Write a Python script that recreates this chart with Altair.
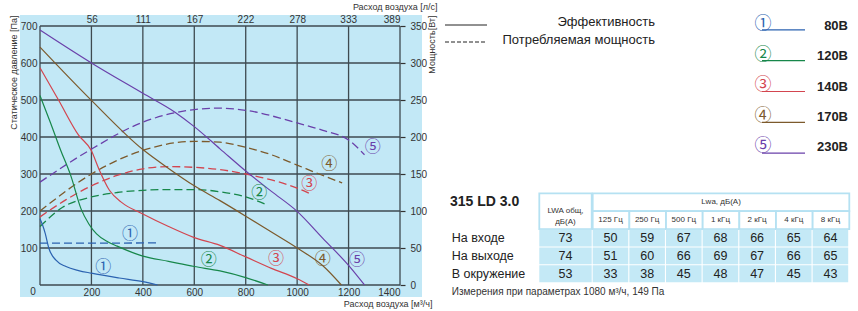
import altair as alt
import pandas as pd

# ---------------- data ----------------
CURVES = ["1", "2", "3", "4", "5"]
DIGITS = ["①", "②", "③", "④", "⑤"]
VOLTAGES = ["80В", "120В", "140В", "170В", "230В"]
COLORS = ["#2b62b0", "#17874a", "#d3454f", "#7c5a2c", "#6a40aa"]

# static pressure curves: flow [m3/h] -> pressure [Pa]
P_FLOW = {
    "1": [0, 10, 20, 34, 62, 101, 150, 200, 308, 400, 457],
    "2": [0, 40, 80, 120, 160, 190, 220, 260, 300, 400, 500, 600, 700, 800, 886],
    "3": [0, 72, 150, 199, 230, 270, 320, 400, 500, 600, 700, 800, 900, 1000, 1047],
    "4": [0, 200, 400, 500, 600, 700, 800, 900, 1000, 1100, 1172],
    "5": [0, 200, 400, 525, 600, 700, 800, 900, 1000, 1100, 1200, 1262],
}
P_PA = {
    "1": [179, 162, 140, 100, 67, 50, 39, 32, 19, 9, 0],
    "2": [512, 440, 365, 295, 205, 165, 138, 118, 105, 78, 64, 50, 38, 20, 0],
    "3": [587, 500, 405, 364, 312, 256, 222, 192, 158, 128, 107, 76, 45, 17, 0],
    "4": [643, 499, 366, 315, 268, 228, 186, 143, 100, 52, 0],
    "5": [689, 600, 518, 467, 428, 368, 308, 253, 199, 126, 53, 0],
}
# consumed power curves: flow [m3/h] -> power [W]
W_FLOW = {
    "1": [0, 200, 457],
    "2": [0, 88, 200, 300, 400, 500, 600, 700, 800, 885],
    "3": [0, 100, 200, 300, 400, 500, 600, 700, 800, 900, 1000, 1047],
    "4": [0, 200, 400, 600, 700, 800, 900, 1000, 1100, 1175],
    "5": [0, 192, 400, 600, 700, 800, 1000, 1100, 1200, 1262],
}
W_VAL = {
    "1": [56.5, 56.5, 57],
    "2": [79, 105, 119, 125, 128, 129, 129, 126, 119, 108],
    "3": [92, 115, 134, 148, 157, 160, 159, 156, 150, 142, 131, 124],
    "4": [100, 150, 182, 194, 193, 186, 176, 162, 148, 138],
    "5": [139, 182, 220, 237, 239, 236, 219, 209, 196, 176],
}
# circled-number annotation anchors
SOLID_LAB_FLOW = [246, 656, 918, 1100, 1233]
SOLID_LAB_PA = [50, 67, 71, 71, 67]
DASH_LAB_FLOW = [350, 853, 1047, 1125, 1294]
DASH_LAB_W = [69, 125, 137, 164, 187]

FLOW_TICKS = [0, 200, 400, 600, 800, 1000, 1200, 1400]
PA_TICKS = [0, 100, 200, 300, 400, 500, 600, 700]
W_TICKS = [0, 50, 100, 150, 200, 250, 300, 350]
LS_TICKS = [56, 111, 167, 222, 278, 333, 389]

STYLE_LABELS = ["Эффективность", "Потребляемая мощность"]
STYLE_KIND = ["solid", "dashed"]

MODEL = "315 LD 3.0"
ROWS = ["На входе", "На выходе", "В окружение"]
FREQS = ["125 Гц", "250 Гц", "500 Гц", "1 кГц", "2 кГц", "4 кГц", "8 кГц"]
TOTAL = [73, 74, 53]
BANDS = [
    [50, 59, 67, 68, 66, 65, 64],
    [51, 60, 66, 69, 67, 66, 65],
    [33, 38, 45, 48, 47, 45, 43],
]
HDR_TOTAL = "LWA общ,\nдБ(A)"
HDR_BANDS = "Lwa, дБ(A)"
NOTE = "Измерения при параметрах 1080 м³/ч, 149 Па"

# ---------------- tables ----------------
df_p = pd.DataFrame([{"curve": c, "flow": f, "pa": p}
                     for c in CURVES for f, p in zip(P_FLOW[c], P_PA[c])])
df_w = pd.DataFrame([{"curve": c, "flow": f, "w": w}
                     for c in CURVES for f, w in zip(W_FLOW[c], W_VAL[c])])
df_sl = pd.DataFrame({"curve": CURVES, "digit": DIGITS, "flow": SOLID_LAB_FLOW, "pa": SOLID_LAB_PA})
df_dl = pd.DataFrame({"curve": CURVES, "digit": DIGITS, "flow": DASH_LAB_FLOW, "w": DASH_LAB_W})
df_leg = pd.DataFrame({"idx": list(range(5)), "curve": CURVES, "digit": DIGITS, "volt": VOLTAGES})
df_style = pd.DataFrame({"idx": [0, 1], "label": STYLE_LABELS, "kind": STYLE_KIND})
df_tot = pd.DataFrame({"r": [0, 1, 2], "v": TOTAL, "row": ROWS})
df_band = pd.DataFrame([{"r": r, "c": c, "v": BANDS[r][c]} for r in range(3) for c in range(7)])
df_freq = pd.DataFrame({"c": list(range(7)), "f": FREQS})
one = pd.DataFrame({"a": [0]})

FONT = "Liberation Sans"
CIRC_FONT = "Noto Sans CJK JP"
TXT = "#333333"
GRID = "#3e4a50"

W, H = 360, 259

xs = alt.Scale(domain=[0, 1400], nice=False, zero=False)
ypa = alt.Scale(domain=[0, 700], nice=False)
yw = alt.Scale(domain=[0, 350], nice=False)
xls = alt.Scale(domain=[0, 389], nice=False)
cscale = alt.Scale(domain=CURVES, range=COLORS)

AX = dict(labelFont=FONT, labelFontSize=10, labelColor=TXT, titleFont=FONT,
          titleFontSize=9, titleColor=TXT, titleFontWeight="normal",
          grid=False, domain=False, zindex=1, format="d")

bg = alt.Chart(one).mark_rect(color="#c2e8f6").encode(
    x=alt.value(-20), x2=alt.value(382), y=alt.value(-11), y2=alt.value(271))

vgrid = alt.Chart(pd.DataFrame({"f": FLOW_TICKS})).mark_rule(color=GRID, strokeWidth=1.3).encode(
    x=alt.X("f:Q", scale=xs, axis=None))
hgrid = alt.Chart(pd.DataFrame({"p": PA_TICKS})).mark_rule(color=GRID, strokeWidth=1.3).encode(
    y=alt.Y("p:Q", scale=ypa, axis=None))

solid = alt.Chart(df_p).mark_line(strokeWidth=1.2, interpolate="monotone").encode(
    x=alt.X("flow:Q", scale=xs, axis=alt.Axis(
        orient="bottom", values=FLOW_TICKS[1:], ticks=False, labelPadding=2,
        title="Расход воздуха [м³/ч]", titleAngle=0, titleAlign="right",
        titleBaseline="middle", titleX=392, titleY=18, **AX)),
    y=alt.Y("pa:Q", scale=ypa, axis=alt.Axis(
        orient="left", values=PA_TICKS[1:], ticks=False, labelPadding=3,
        title="Статическое давление [Па]", titleAngle=270, titleAlign="right",
        titleBaseline="middle", titleX=-27, titleY=-11, **AX)),
    color=alt.Color("curve:N", scale=cscale, legend=None),
)

dashed = alt.Chart(df_w).mark_line(strokeWidth=1.3, strokeDash=[8, 4], interpolate="monotone").encode(
    x=alt.X("flow:Q", scale=xs, axis=None),
    y=alt.Y("w:Q", scale=yw, axis=alt.Axis(
        orient="right", values=W_TICKS, tickSize=5, tickColor=TXT, tickWidth=1.2,
        labelPadding=5, title="Мощность[Вт]", titleAngle=270, titleAlign="right",
        titleBaseline="middle", titleX=31, titleY=-11, **AX)),
    color=alt.Color("curve:N", scale=cscale, legend=None),
)

top_axis = alt.Chart(pd.DataFrame({"ls": LS_TICKS})).mark_rule(opacity=0).encode(
    x=alt.X("ls:Q", scale=xls, axis=alt.Axis(
        orient="top", values=LS_TICKS, ticks=False, labelPadding=2,
        title="Расход воздуха [л/с]", titleAngle=0, titleAlign="right",
        titleBaseline="middle", titleX=397, titleY=-20, **AX)))

origin = alt.Chart(pd.DataFrame({"f": [0], "p": [0]})).mark_text(
    text="0", font=FONT, fontSize=10, color=TXT, dx=-7, dy=7).encode(
    x=alt.X("f:Q", scale=xs, axis=None), y=alt.Y("p:Q", scale=ypa, axis=None))

sol_lab = alt.Chart(df_sl).mark_text(font=CIRC_FONT, fontSize=16).encode(
    x=alt.X("flow:Q", scale=xs, axis=None), y=alt.Y("pa:Q", scale=ypa, axis=None),
    text="digit:N", color=alt.Color("curve:N", scale=cscale, legend=None))
dash_lab = alt.Chart(df_dl).mark_text(font=CIRC_FONT, fontSize=16).encode(
    x=alt.X("flow:Q", scale=xs, axis=None), y=alt.Y("w:Q", scale=yw, axis=None),
    text="digit:N", color=alt.Color("curve:N", scale=cscale, legend=None))

# ---- line-style legend ----
style_rule = alt.Chart(df_style).mark_rule(color="#222", strokeWidth=1).encode(
    x=alt.value(405), x2=alt.value(447),
    y=alt.Y("idx:Q", scale=alt.Scale(domain=[0, 1], range=[-1, 16], nice=False), axis=None),
    strokeDash=alt.StrokeDash("kind:N", scale=alt.Scale(domain=STYLE_KIND, range=[[1, 0], [4, 2]]), legend=None))
style_txt = alt.Chart(df_style).mark_text(align="right", baseline="middle", font=FONT, fontSize=13, color="#222").encode(
    x=alt.value(615),
    y=alt.Y("idx:Q", scale=alt.Scale(domain=[0, 1], range=[-4, 13.5], nice=False), axis=None),
    text="label:N")

# ---- voltage legend ----
leg_dig = alt.Chart(df_leg).mark_text(font=CIRC_FONT, fontSize=17, baseline="middle").encode(
    x=alt.value(723),
    y=alt.Y("idx:Q", scale=alt.Scale(domain=[0, 4], range=[-2, 120], nice=False), axis=None),
    text="digit:N", color=alt.Color("curve:N", scale=cscale, legend=None))
leg_line = alt.Chart(df_leg).mark_rule(strokeWidth=1.2).encode(
    x=alt.value(722), x2=alt.value(765),
    y=alt.Y("idx:Q", scale=alt.Scale(domain=[0, 4], range=[3.8, 127.2], nice=False), axis=None),
    color=alt.Color("curve:N", scale=cscale, legend=None))
leg_volt = alt.Chart(df_leg).mark_text(align="right", baseline="middle", font=FONT, fontSize=13,
                                       fontWeight="bold", color="#222").encode(
    x=alt.value(808),
    y=alt.Y("idx:Q", scale=alt.Scale(domain=[0, 4], range=[0, 121], nice=False), axis=None),
    text="volt:N")

# ---- noise table ----
tx_tot = alt.Scale(domain=[0, 1], range=[499.3, 551.7], nice=False, zero=False)
tx_frq = alt.Scale(domain=[0, 7], range=[552.7, 809.3], nice=False, zero=False)
ty_tab = alt.Scale(domain=[0, 5], range=[167.3, 256.7], nice=False, zero=False)
CELL = "#c4e9f6"
HSTROKE = "#b5e1f2"


def XT(f):
    return alt.X(f, scale=tx_tot, axis=None)


def XF(f):
    return alt.X(f, scale=tx_frq, axis=None)


def YT(f):
    return alt.Y(f, scale=ty_tab, axis=None)


hdr_tot = alt.Chart(one).transform_calculate(x0="0", x1="1", y0="0", y1="2").mark_rect(
    fill="white", stroke=HSTROKE, strokeWidth=1.8).encode(
    x=XT("x0:Q"), x2="x1:Q", y=YT("y0:Q"), y2="y1:Q")
hdr_span = alt.Chart(one).transform_calculate(x0="0", x1="7", y0="0", y1="1").mark_rect(
    fill="white", stroke=HSTROKE, strokeWidth=1.8).encode(
    x=XF("x0:Q"), x2="x1:Q", y=YT("y0:Q"), y2="y1:Q")
hdr_freq = alt.Chart(df_freq).transform_calculate(
    x0="datum.c", x1="datum.c + 1", y0="1", y1="2").mark_rect(
    fill="white", stroke=HSTROKE, strokeWidth=1.8).encode(
    x=XF("x0:Q"), x2="x1:Q", y=YT("y0:Q"), y2="y1:Q")

cell_tot = alt.Chart(df_tot).transform_calculate(
    x0="0", x1="1", y0="datum.r + 2.03", y1="datum.r + 2.97").mark_rect(fill=CELL).encode(
    x=XT("x0:Q"), x2="x1:Q", y=YT("y0:Q"), y2="y1:Q")
cell_band = alt.Chart(df_band).transform_calculate(
    x0="datum.c", x1="datum.c + 0.97", y0="datum.r + 2.03", y1="datum.r + 2.97").mark_rect(fill=CELL).encode(
    x=XF("x0:Q"), x2="x1:Q", y=YT("y0:Q"), y2="y1:Q")

HT = dict(font=FONT, fontSize=8, color=TXT, baseline="middle", align="center")
t_hdr_tot = alt.Chart(one).transform_calculate(x="0.5", y="1").mark_text(
    text=HDR_TOTAL, lineBreak="\n", lineHeight=11, **HT).encode(x=XT("x:Q"), y=YT("y:Q"))
t_hdr_span = alt.Chart(one).transform_calculate(x="3.5", y="0.5").mark_text(
    text=HDR_BANDS, **HT).encode(x=XF("x:Q"), y=YT("y:Q"))
t_hdr_freq = alt.Chart(df_freq).transform_calculate(x="datum.c + 0.485", y="1.5").mark_text(
    **HT).encode(x=XF("x:Q"), y=YT("y:Q"), text="f:N")

VT = dict(font=FONT, fontSize=12.5, color="#222", baseline="middle", align="center")
t_tot = alt.Chart(df_tot).transform_calculate(x="0.5", y="datum.r + 2.5").mark_text(**VT).encode(
    x=XT("x:Q"), y=YT("y:Q"), text="v:Q")
t_band = alt.Chart(df_band).transform_calculate(x="datum.c + 0.485", y="datum.r + 2.5").mark_text(**VT).encode(
    x=XF("x:Q"), y=YT("y:Q"), text="v:Q")
t_rows = alt.Chart(df_tot).transform_calculate(y="datum.r + 2.5").mark_text(
    font=FONT, fontSize=12.5, color="#222", baseline="middle", align="left").encode(
    x=alt.value(411.7), y=YT("y:Q"), text="row:N")
t_model = alt.Chart(one).transform_calculate(y="0.5").mark_text(
    text=MODEL, font=FONT, fontSize=14, fontWeight="bold", color="#222", baseline="middle", align="left").encode(
    x=alt.value(410), y=YT("y:Q"))
t_note = alt.Chart(one).transform_calculate(y="5.5").mark_text(
    text=NOTE, font=FONT, fontSize=10, color=TXT, baseline="middle", align="left").encode(
    x=alt.value(411.7), y=YT("y:Q"))

chart = alt.layer(
    bg, vgrid, hgrid, top_axis, dashed, solid, origin, sol_lab, dash_lab,
    style_rule, style_txt, leg_line, leg_dig, leg_volt,
    hdr_tot, hdr_span, hdr_freq, cell_tot, cell_band,
    t_hdr_tot, t_hdr_span, t_hdr_freq, t_tot, t_band, t_rows, t_model, t_note,
).resolve_scale(x="independent", y="independent").properties(
    width=W, height=H, autosize="none",
    padding={"left": 40, "top": 26, "right": 858 - 40 - W, "bottom": 311 - 26 - H},
).configure_view(stroke=None)

chart.save("out.html", embed_options={"renderer": "svg", "actions": False})
